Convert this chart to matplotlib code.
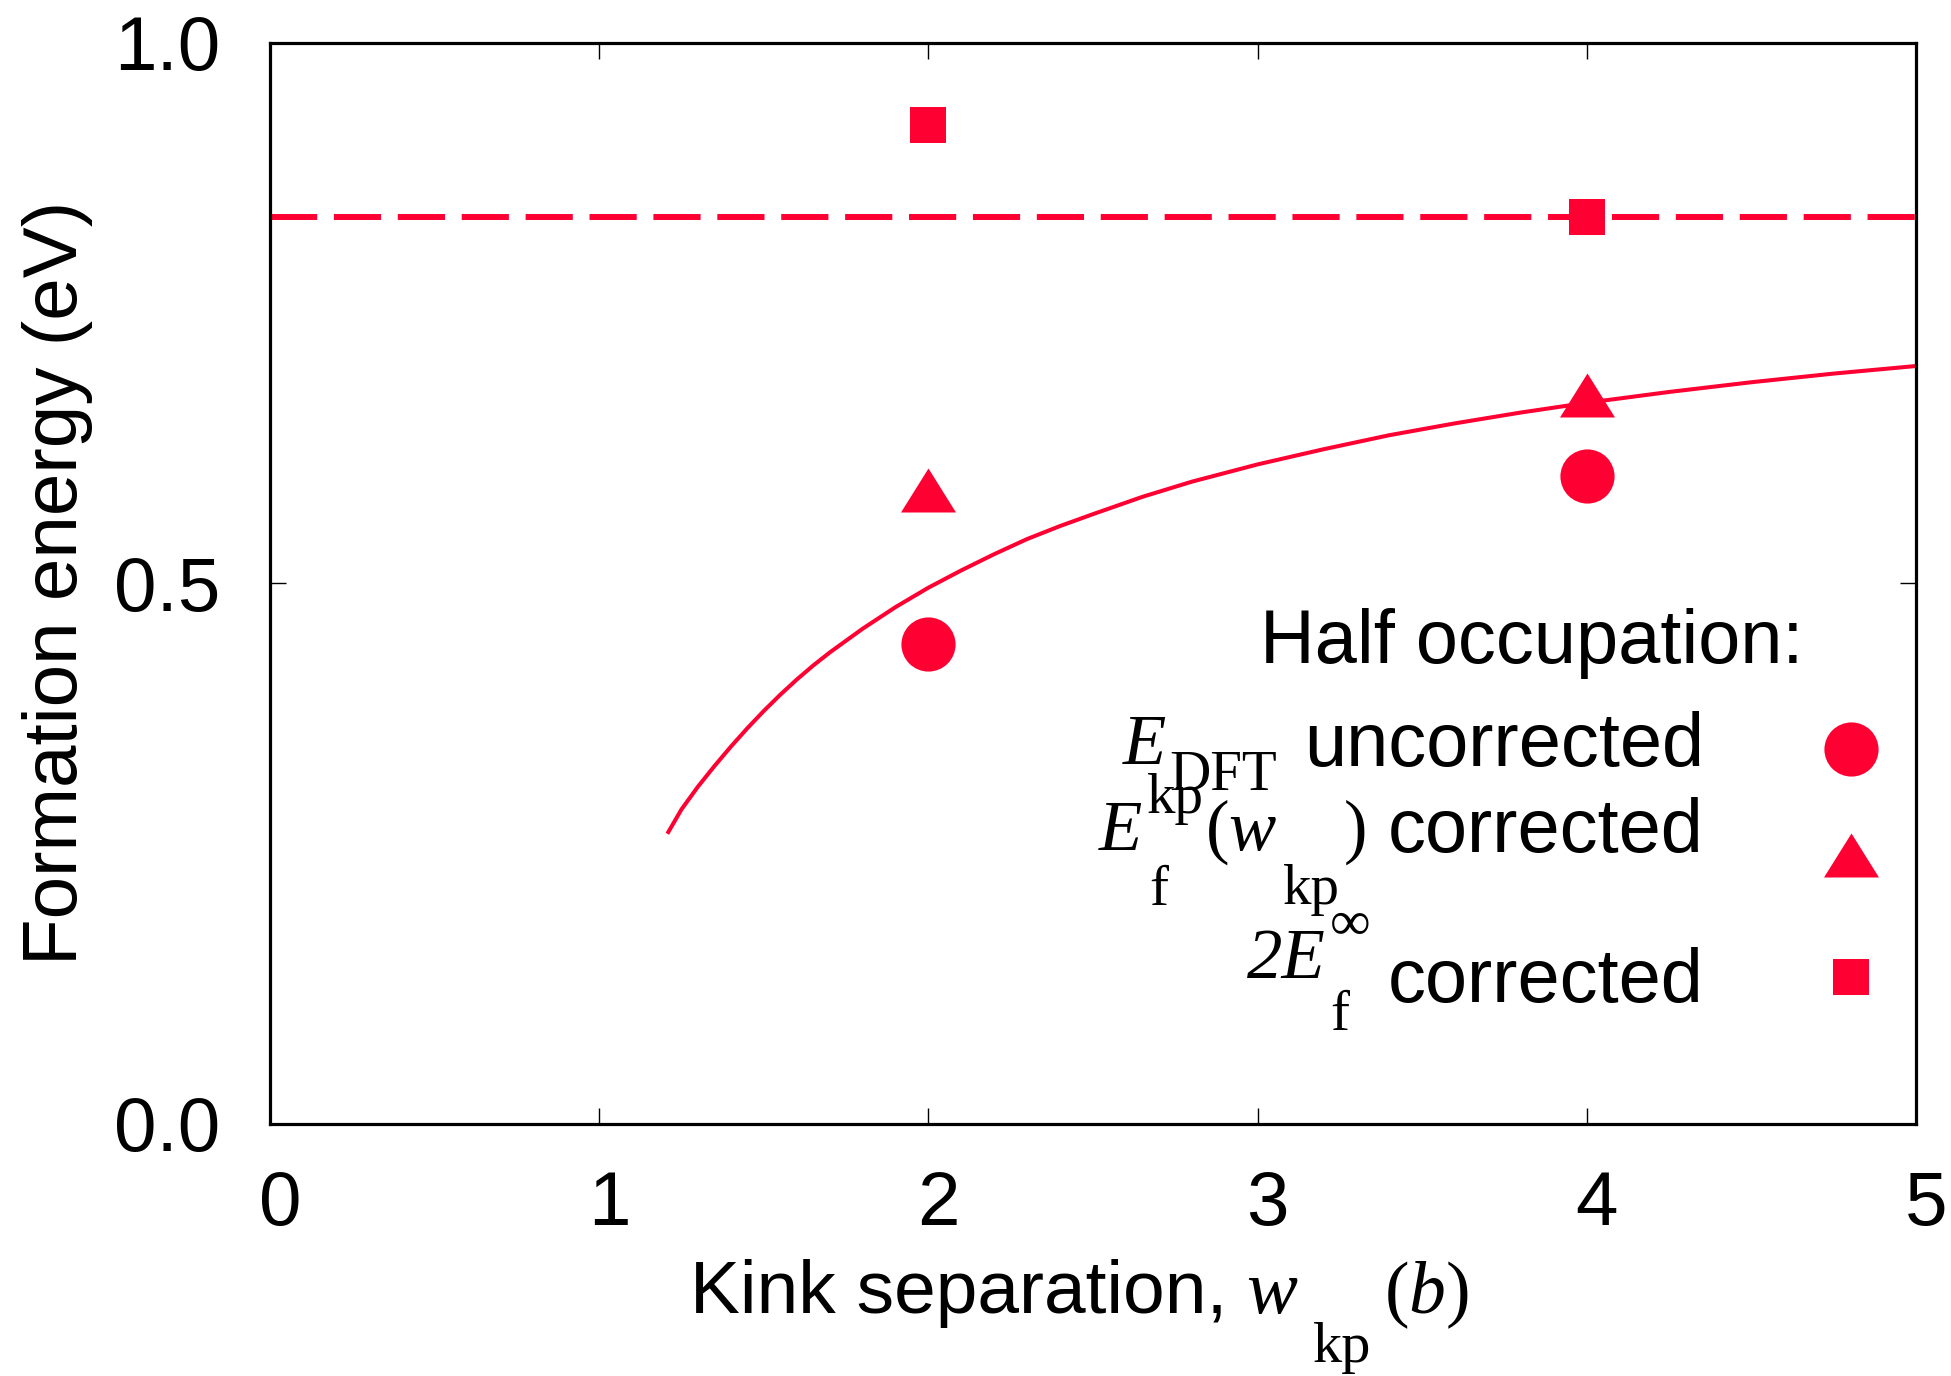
import numpy as np
import matplotlib.pyplot as plt
import matplotlib.transforms as mtransforms
from matplotlib.ticker import FormatStrFormatter

W, H = 1951, 1376
RED = '#ff0033'

plt.rcParams['font.family'] = ['Liberation Sans', 'DejaVu Sans']
plt.rcParams['mathtext.fontset'] = 'custom'
plt.rcParams['mathtext.rm'] = 'Liberation Serif'
plt.rcParams['mathtext.it'] = 'Liberation Serif:italic'

# values
kink_sep = [2, 4]
e_uncorrected = [0.444, 0.599]
e_corrected = [0.586, 0.674]
e_inf_corrected = [0.924, 0.839]
e_inf_level = 0.839

# fitted curve, points
fit_w = [1.21, 1.25, 1.30, 1.35, 1.40, 1.45, 1.50, 1.55, 1.60, 1.65, 1.70,
         1.75, 1.80, 1.90, 2.00, 2.10, 2.20, 2.30, 2.40, 2.50, 2.65, 2.80,
         3.00, 3.20, 3.40, 3.60, 3.80, 4.00, 4.25, 4.50, 4.75, 5.00]
fit_e = [0.270, 0.291, 0.312, 0.331, 0.349, 0.366, 0.382, 0.397, 0.411, 0.424,
         0.436, 0.447, 0.458, 0.478, 0.496, 0.512, 0.527, 0.541, 0.553, 0.564,
         0.580, 0.594, 0.610, 0.624, 0.637, 0.648, 0.658, 0.667, 0.677, 0.686,
         0.694, 0.701]

x_ticks = [0, 1, 2, 3, 4, 5]
y_ticks = [0.0, 0.5, 1.0]

TRI = [(-1, -0.8), (1, -0.8), (0, 0.8)]


def fx(px):
    return px / W


def fy(py):
    return 1 - py / H


fig = plt.figure(figsize=(W / 100, H / 100), dpi=100)
ax = fig.add_axes([fx(270), fy(1124), (1916 - 270) / W, (1124 - 42.7) / H])

# dashed asymptote
ax.axhline(e_inf_level, color=RED, lw=4.3, dashes=(7.9, 2.8))
# fit curve
ax.plot(fit_w, fit_e, color=RED, lw=2.9, solid_joinstyle='round')
# data points
ax.plot(kink_sep, e_uncorrected, 'o', color=RED, ms=39, mew=0, ls='none')
ax.plot(kink_sep, e_corrected, marker=TRI, color=RED, ms=39.6, mew=0, ls='none')
ax.plot(kink_sep, e_inf_corrected, 's', color=RED, ms=26.6, mew=0, ls='none')

ax.set_xlim(0, 5)
ax.set_ylim(0, 1)
ax.set_xticks(x_ticks)
ax.set_yticks(y_ticks)
ax.yaxis.set_major_formatter(FormatStrFormatter('%.1f'))
ax.tick_params(direction='in', length=11.5, width=1.0, top=True, right=True,
               labelsize=55)
ax.tick_params(axis='x', pad=33)
ax.tick_params(axis='y', pad=36)
for sp in ax.spines.values():
    sp.set_linewidth(2.3)

# gnuplot puts the x tick labels a little right of the ticks
shift = mtransforms.ScaledTranslation(0.10, 0, fig.dpi_scale_trans)
for lab in ax.get_xticklabels():
    lab.set_transform(lab.get_transform() + shift)

# axis labels (gnuplot-style enhanced text, built from pieces)
fig.text(fx(58), fy(583), 'Formation energy (eV)', rotation=90,
         ha='center', va='center', fontsize=55)
fig.text(fx(690), fy(1313), 'Kink separation,', fontsize=54, va='baseline')
fig.text(fx(1246), fy(1313), 'w', fontsize=55, style='italic',
         family='Liberation Serif', va='baseline')
fig.text(fx(1313), fy(1362), 'kp', fontsize=42, va='baseline',
         family='Liberation Serif')
fig.text(fx(1384), fy(1313), r'$(b)$', fontsize=53, va='baseline')

# key
serif = dict(family='Liberation Serif', va='baseline')
fig.text(fx(1803), fy(663), 'Half occupation:', fontsize=54.5, ha='right',
         va='baseline')

fig.text(fx(1123), fy(764), 'E', fontsize=51, style='italic', **serif)
fig.text(fx(1169), fy(790), 'DFT', fontsize=41, **serif)
fig.text(fx(1704), fy(766), 'uncorrected', fontsize=54.5, ha='right',
         va='baseline')

fig.text(fx(1099), fy(850), 'E', fontsize=51, style='italic', **serif)
fig.text(fx(1147), fy(813), 'kp', fontsize=41, **serif)
fig.text(fx(1149), fy(905), 'f', fontsize=41, **serif)
fig.text(fx(1205), fy(850), r'$(w$', fontsize=51, va='baseline')
fig.text(fx(1283), fy(904), 'kp', fontsize=41, **serif)
fig.text(fx(1344), fy(850), ')', fontsize=51, **serif)
fig.text(fx(1704), fy(852), 'corrected', fontsize=54.5, ha='right',
         va='baseline')

fig.text(fx(1247), fy(978), '2E', fontsize=51, style='italic', **serif)
fig.text(fx(1330), fy(940), '\u221e', fontsize=41, **serif)
fig.text(fx(1330), fy(1030), 'f', fontsize=41, **serif)
fig.text(fx(1704), fy(1002), 'corrected', fontsize=54.5, ha='right',
         va='baseline')

ax.plot([fx(1851)], [fy(749)], 'o', color=RED, ms=39, mew=0,
        transform=fig.transFigure, clip_on=False)
ax.plot([fx(1851)], [fy(855)], marker=TRI, color=RED, ms=39.6, mew=0,
        transform=fig.transFigure, clip_on=False)
ax.plot([fx(1851)], [fy(977)], 's', color=RED, ms=26.6, mew=0,
        transform=fig.transFigure, clip_on=False)

fig.savefig('out.png', dpi=100)
